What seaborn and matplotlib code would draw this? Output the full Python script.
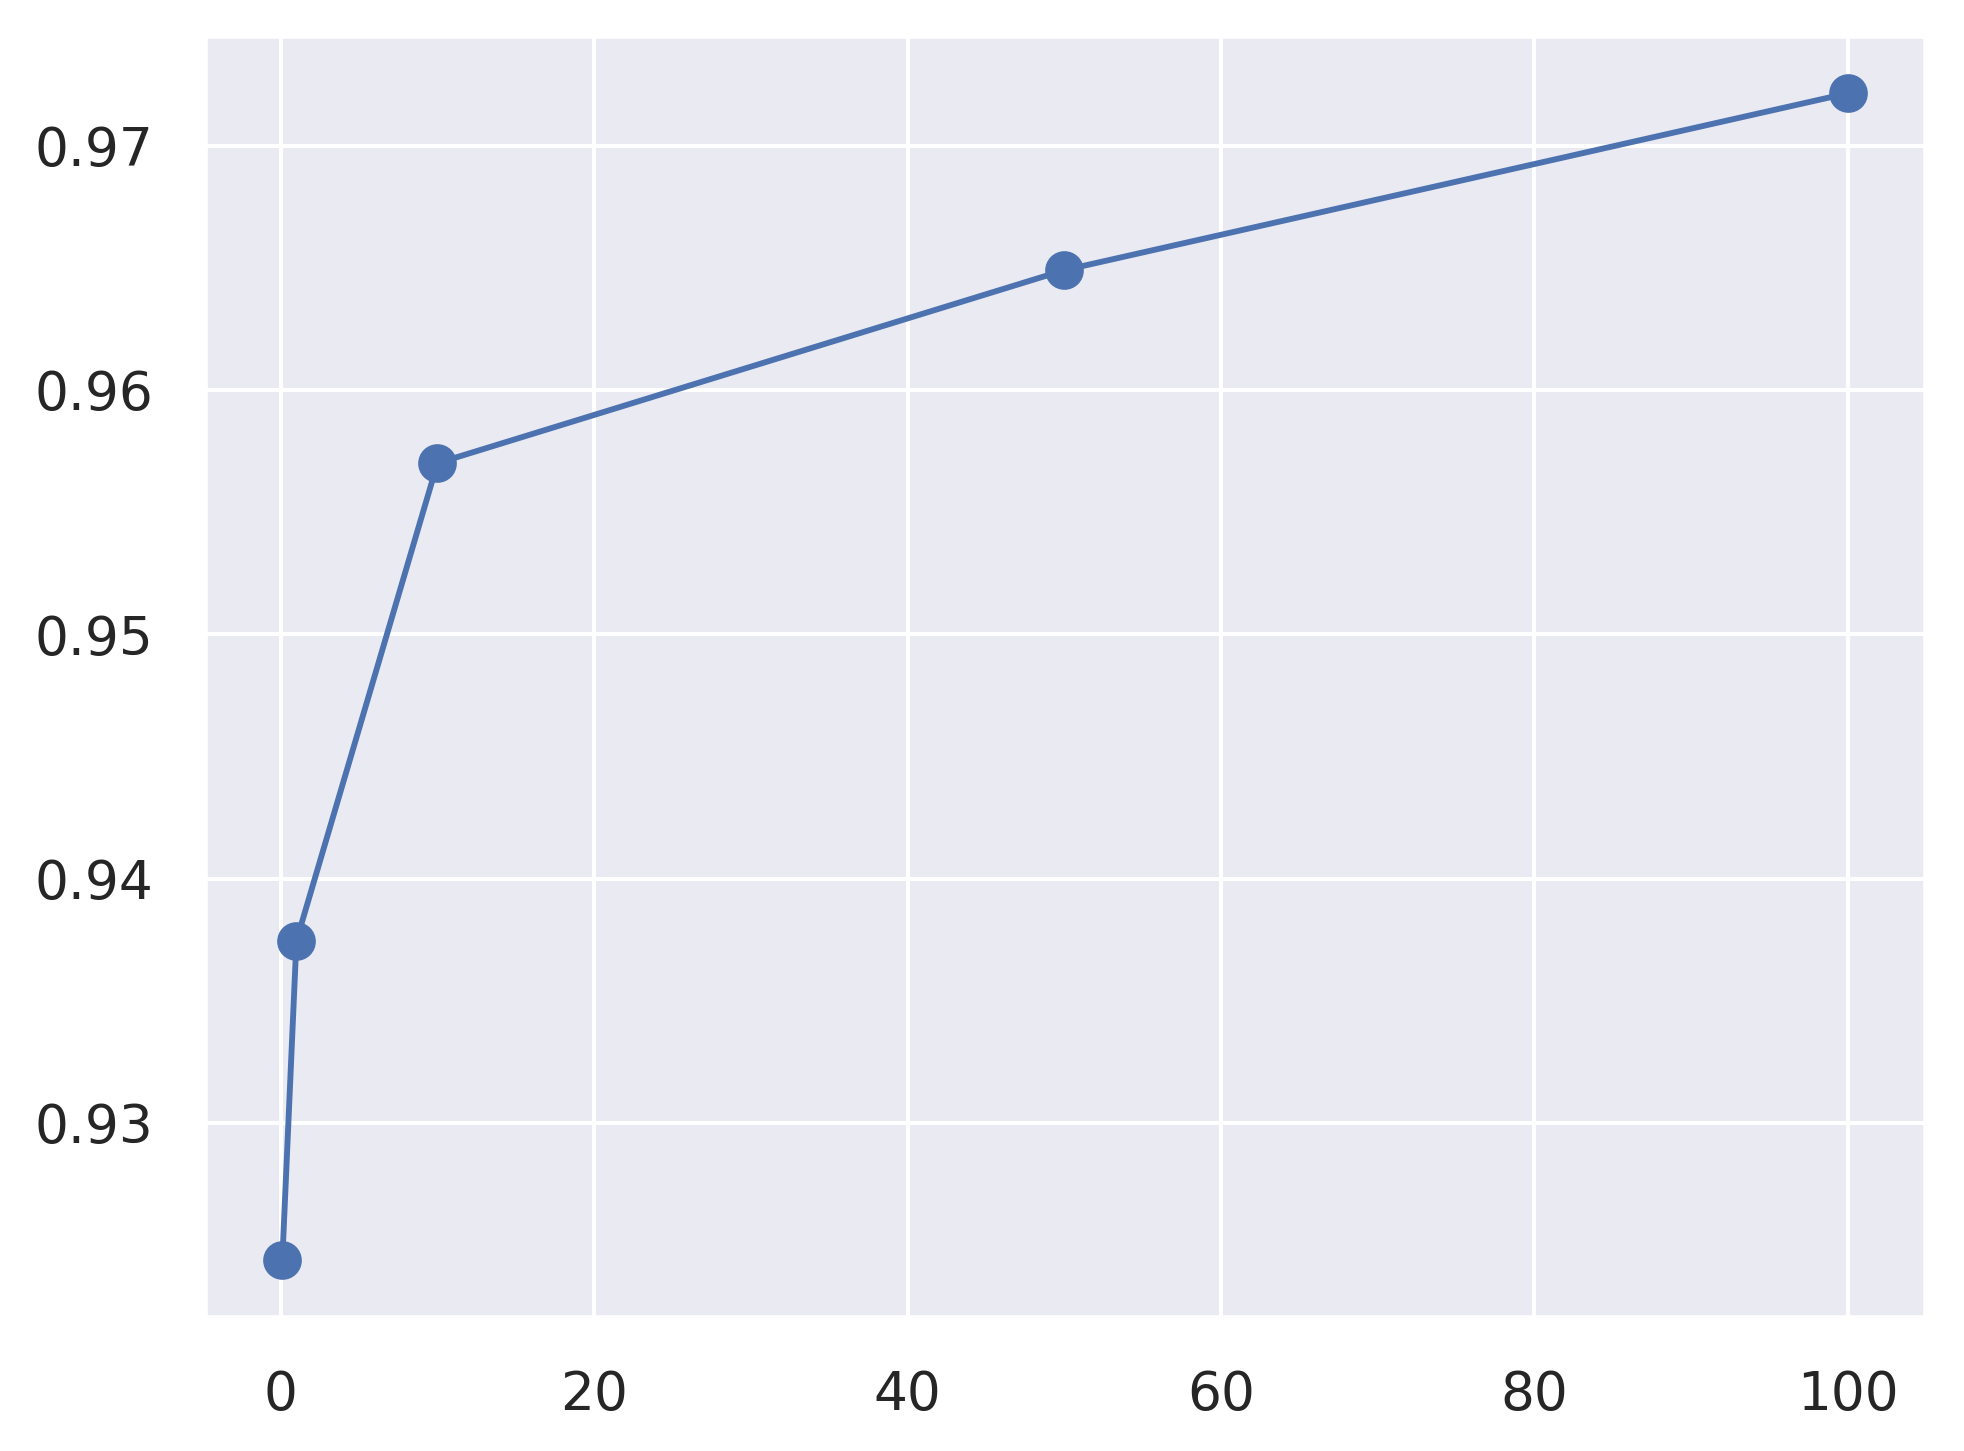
import numpy as np
import pandas as pd
import matplotlib
matplotlib.use("Agg")
import matplotlib.pyplot as plt
import seaborn as sns

# valores
x_vals = [0.1, 1, 10, 50, 100]
y_vals = [0.9244, 0.93745, 0.9570, 0.9649, 0.97214]
x_ticks = [0, 20, 40, 60, 80, 100]
y_ticks = [0.93, 0.94, 0.95, 0.96, 0.97]

sns.set_theme(rc={"grid.linewidth": 0.75,
                  "xtick.labelsize": 10,
                  "ytick.labelsize": 10})

df = pd.DataFrame({"x": x_vals, "y": y_vals})

fig = plt.figure(figsize=(1964 / 384, 1451 / 384), dpi=384)
ax = fig.add_axes([0.1039, 0.0917, 0.9807 - 0.1039, 0.9759 - 0.0917])

sns.lineplot(data=df, x="x", y="y", marker="o", markeredgecolor="C0",
             markersize=6.5, linewidth=1.1, ax=ax)

ax.set_xlabel("")
ax.set_ylabel("")
ax.set_xticks(x_ticks)
ax.set_yticks(y_ticks)

fig.savefig("out.png", dpi=384)
